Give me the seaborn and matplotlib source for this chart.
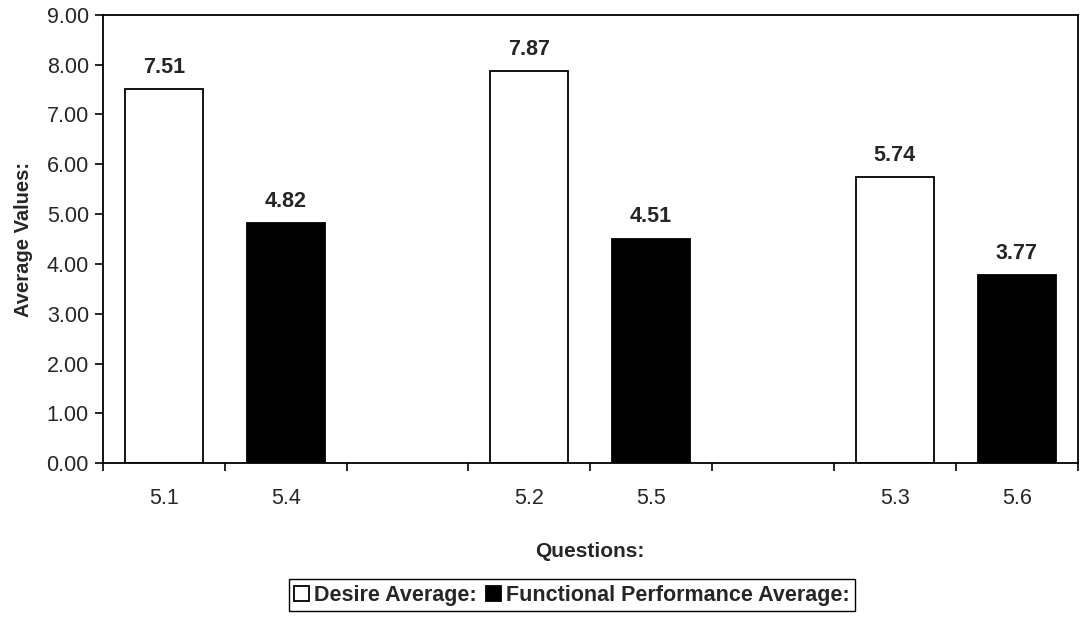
import numpy as np
import pandas as pd
import matplotlib
matplotlib.use("Agg")
import matplotlib.pyplot as plt
import seaborn as sns

# Question averages, grouped in pairs with a blank slot between groups
slots = ["5.1", "5.4", " ", "5.2", "5.5", "  ", "5.3", "5.6"]
questions = ["5.1", "5.4", "5.2", "5.5", "5.3", "5.6"]
values = [7.51, 4.82, 7.87, 4.51, 5.74, 3.77]
series = ["Desire Average:", "Functional Performance Average:",
          "Desire Average:", "Functional Performance Average:",
          "Desire Average:", "Functional Performance Average:"]
y_ticks = [0, 1, 2, 3, 4, 5, 6, 7, 8, 9]

df = pd.DataFrame({"Question": questions, "Value": values, "Series": series})

sns.set_style("white")
plt.rcParams["font.family"] = ["Liberation Sans", "DejaVu Sans"]

fig = plt.figure(figsize=(10.83, 6.2), dpi=100)
ax = fig.add_axes([0.095, 0.253, 0.90, 0.723])

sns.barplot(data=df, x="Question", y="Value", hue="Series", order=slots,
            hue_order=["Desire Average:", "Functional Performance Average:"],
            palette=["white", "black"], dodge=False, width=0.64,
            edgecolor="black", linewidth=1.3, ax=ax, legend=True)

for cont in ax.containers:
    ax.bar_label(cont, fmt="%.2f", padding=8, fontsize=15.5, fontweight="bold")

ax.set_xlim(-0.5, 7.5)
ax.set_ylim(0, 9)
ax.set_yticks(y_ticks)
ax.set_yticklabels([f"{t:.2f}" for t in y_ticks], fontsize=15.5)

# tick marks on slot boundaries, labels at slot centres
ax.set_xticks(np.arange(-0.5, 8, 1))
ax.set_xticklabels([])
ax.set_xticks(range(len(slots)), minor=True)
ax.set_xticklabels(slots, minor=True, fontsize=15.5)
ax.tick_params(axis="x", which="major", direction="out", length=6, width=1.2, color="black", bottom=True)
ax.tick_params(axis="x", which="minor", length=0, pad=18)
ax.tick_params(axis="y", direction="out", length=6, width=1.2, color="black", left=True, pad=4)

for s in ax.spines.values():
    s.set_visible(True)
    s.set_color("black")
    s.set_linewidth(1.3)

ax.set_xlabel("Questions:", fontsize=15, fontweight="bold", labelpad=24)
ax.set_ylabel("Average Values:", fontsize=14.5, fontweight="bold", labelpad=10)

ax.legend_.remove()
fig.legend(*ax.get_legend_handles_labels(), loc="center", bbox_to_anchor=(0.528, 0.04),
           ncol=2, frameon=True, fancybox=False, edgecolor="black", framealpha=1,
           prop={"weight": "bold", "size": 15.5}, handlelength=0.7, handleheight=0.7,
           handletextpad=0.25, columnspacing=0.4, borderpad=0.25, borderaxespad=0)

fig.savefig("out.png", dpi=100)
